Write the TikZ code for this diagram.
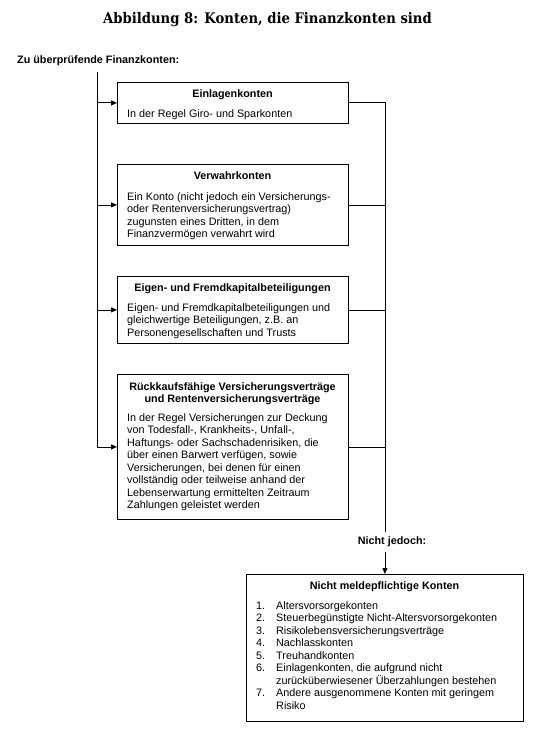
\documentclass[tikz,border=0pt]{standalone}
\usepackage{fontspec}
\setmainfont{Liberation Sans}
\setsansfont{Liberation Sans}
\newfontfamily\titlefont{DejaVu Serif}
\usetikzlibrary{arrows.meta,shadows}
\tikzset{
  box/.style={draw=black, line width=0.8pt, fill=white, inner sep=0pt, anchor=north west,
    drop shadow={shadow xshift=1pt, shadow yshift=-1pt, fill=black!40, opacity=1}},
  ttl/.style={font=\sffamily\bfseries\fontsize{10.8}{12}\selectfont, inner sep=0pt, anchor=north, align=center},
  bodytxt/.style={font=\sffamily\fontsize{10.8}{12.5}\selectfont, inner sep=0pt, anchor=north west, align=left},
  conn/.style={draw=black, line width=0.8pt},
  arr/.style={conn, -{Triangle[length=6pt,width=5pt]}},
  lbl/.style={font=\sffamily\bfseries\fontsize{10.8}{12}\selectfont, inner sep=0pt}
}
\newcommand{\fs}{\rule{0pt}{9pt}}
\newcommand{\itm}[1]{\makebox[20pt][l]{#1}}
\begin{document}
\begin{tikzpicture}[x=1pt,y=-1pt]
\useasboundingbox (0,0) rectangle (534,730);
\fill[white] (0,0) rectangle (534,730);

\node[font=\titlefont\bfseries\fontsize{14.6}{17}\selectfont, anchor=base, inner sep=0pt] (title) at (267.5,24) {\scalebox{0.905}[1]{Abbildung 8: Konten, die Finanzkonten sind}};
\node[lbl, anchor=base west] (head) at (17,64) {Zu überprüfende Finanzkonten:};

\node[box, minimum width=231pt, minimum height=41pt] (b1) at (117,82) {};
\node[box, minimum width=231pt, minimum height=81pt] (b2) at (117,164) {};
\node[box, minimum width=231pt, minimum height=67pt] (b3) at (117,276) {};
\node[box, minimum width=231pt, minimum height=145pt] (b4) at (117,374) {};
\node[box, minimum width=277pt, minimum height=147pt] (b5) at (246,574) {};

\node[ttl] (t1) at (232.5,88) {\fs Einlagenkonten};
\node[bodytxt] (d1) at (127,108) {\fs In der Regel Giro- und Sparkonten};

\node[ttl] (t2) at (232.5,170) {\fs Verwahrkonten};
\node[bodytxt] (d2) at (127,191) {\fs Ein Konto (nicht jedoch ein Versicherungs-\\oder Rentenversicherungsvertrag)\\zugunsten eines Dritten, in dem\\Finanzvermögen verwahrt wird};

\node[ttl] (t3) at (232.5,282) {\fs Eigen- und Fremdkapitalbeteiligungen};
\node[bodytxt] (d3) at (127,302) {\fs Eigen- und Fremdkapitalbeteiligungen und\\gleichwertige Beteiligungen, z.B. an\\Personengesellschaften und Trusts};

\node[ttl] (t4) at (232.5,381) {\fs Rückkaufsfähige Versicherungsverträge\\und Rentenversicherungsverträge};
\node[bodytxt] (d4) at (127,412) {\fs In der Regel Versicherungen zur Deckung\\von Todesfall-, Krankheits-, Unfall-,\\Haftungs- oder Sachschadenrisiken, die\\über einen Barwert verfügen, sowie\\Versicherungen, bei denen für einen\\vollständig oder teilweise anhand der\\Lebenserwartung ermittelten Zeitraum\\Zahlungen geleistet werden};

\node[ttl] (t5) at (384.5,580) {\fs Nicht meldepflichtige Konten};
\node[bodytxt] (d5) at (256,600) {\fs\itm{1.}Altersvorsorgekonten\\\itm{2.}Steuerbegünstigte Nicht-Altersvorsorgekonten\\\itm{3.}Risikolebensversicherungsverträge\\\itm{4.}Nachlasskonten\\\itm{5.}Treuhandkonten\\\itm{6.}Einlagenkonten, die aufgrund nicht\\\itm{}zurücküberwiesener Überzahlungen bestehen\\\itm{7.}Andere ausgenommene Konten mit geringem\\\itm{}Risiko};

\node[lbl, minimum height=20pt] (nj) at (392,542) {Nicht jedoch:};

\coordinate (lt) at (97.5,72);
\draw[arr] (lt) |- (b4.west);
\draw[arr] (lt |- b1.west) -- (b1.west);
\draw[arr] (lt |- b2.west) -- (b2.west);
\draw[arr] (lt |- b3.west) -- (b3.west);

\draw[conn] (b1.east) -| (nj.north -| b5.north);
\draw[conn] (b2.east) -- (b2.east -| b5.north);
\draw[conn] (b3.east) -- (b3.east -| b5.north);
\draw[conn] (b4.east) -- (b4.east -| b5.north);
\draw[arr] (nj.south -| b5.north) -- (b5.north);
\end{tikzpicture}
\end{document}
